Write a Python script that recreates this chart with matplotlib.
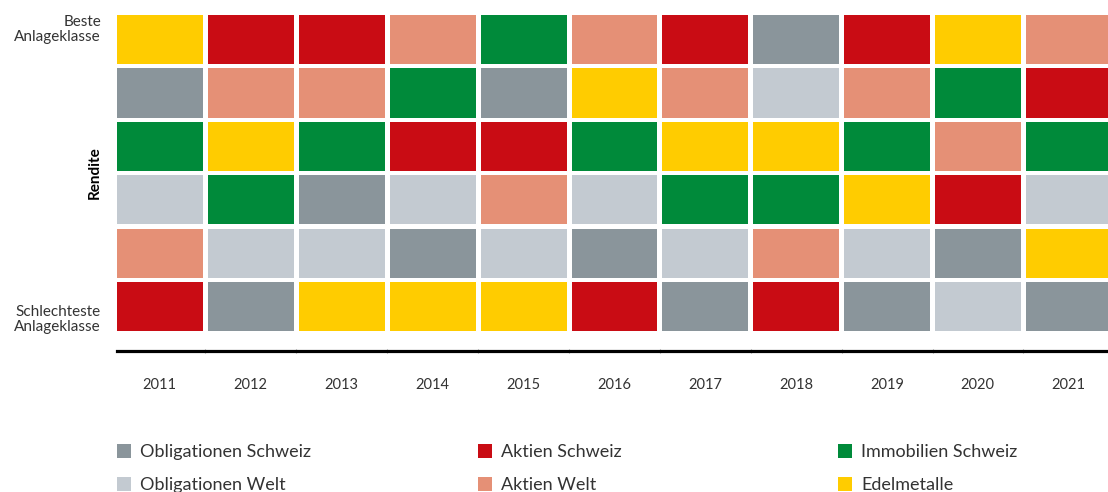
import matplotlib
matplotlib.use("Agg")
import matplotlib.pyplot as plt
from matplotlib.patches import Rectangle, Patch

plt.rcParams['font.family'] = ['Lato', 'DejaVu Sans']

# asset classes and their colours
categories = ['Obligationen Schweiz', 'Obligationen Welt', 'Aktien Schweiz',
              'Aktien Welt', 'Immobilien Schweiz', 'Edelmetalle']
colors = ['#8A959B', '#C3CAD1', '#C90C14', '#E59076', '#008A3A', '#FFCC00']
short = ['OS', 'OW', 'AS', 'AW', 'IS', 'EM']

years = ['2011', '2012', '2013', '2014', '2015', '2016',
         '2017', '2018', '2019', '2020', '2021']

# ranking per year, best to worst
ranking = [
    ['EM', 'OS', 'IS', 'OW', 'AW', 'AS'],  # 2011
    ['AS', 'AW', 'EM', 'IS', 'OW', 'OS'],  # 2012
    ['AS', 'AW', 'IS', 'OS', 'OW', 'EM'],  # 2013
    ['AW', 'IS', 'AS', 'OW', 'OS', 'EM'],  # 2014
    ['IS', 'OS', 'AS', 'AW', 'OW', 'EM'],  # 2015
    ['AW', 'EM', 'IS', 'OW', 'OS', 'AS'],  # 2016
    ['AS', 'AW', 'EM', 'IS', 'OW', 'OS'],  # 2017
    ['OS', 'OW', 'EM', 'IS', 'AW', 'AS'],  # 2018
    ['AS', 'AW', 'IS', 'EM', 'OW', 'OS'],  # 2019
    ['EM', 'IS', 'AW', 'AS', 'OS', 'OW'],  # 2020
    ['AW', 'AS', 'IS', 'OW', 'EM', 'OS'],  # 2021
]

color_of = dict(zip(short, colors))
txt_color = '#333333'

W, H = 1108, 492
fig = plt.figure(figsize=(W / 100, H / 100), dpi=100)

# grid axes: left 117px, top 15px, bottom line at 351px, column pitch ~91px
pitch_x, pitch_y = 90.9, 53.4
left, top, bottom = 117, 15, 351
ncol = len(years)
ax_w = ncol * pitch_x
ax = fig.add_axes([left / W, (H - bottom) / H, ax_w / W, (bottom - top) / H])
ax.set_xlim(0, ncol)
ymax = (bottom - top) / pitch_y
ax.set_ylim(ymax, 0)

for i, col in enumerate(ranking):
    for r, code in enumerate(col):
        ax.add_patch(Rectangle((i, r), 0.945, 0.92, facecolor=color_of[code],
                               edgecolor='none'))

for s in ['top', 'right', 'left']:
    ax.spines[s].set_visible(False)
ax.spines['bottom'].set_linewidth(2.3)
ax.spines['bottom'].set_color('black')

ax.set_xticks([i + 0.47 for i in range(ncol)])
ax.set_xticklabels(years, fontsize=10.5, color=txt_color)
ax.tick_params(axis='x', length=0, pad=19.5)
ax.set_xticks([i + 0.972 for i in range(ncol - 1)], minor=True)
ax.tick_params(axis='x', which='minor', length=3, width=0.8,
               color='#9a9a9a', direction='inout')
ax.set_yticks([])

lab_x = -16 / ax_w
ax.text(lab_x, 0.0, 'Beste\nAnlageklasse', transform=ax.get_yaxis_transform(),
        ha='right', va='top', fontsize=11, color=txt_color, linespacing=1.1)
ax.text(lab_x, 5.97, 'Schlechteste\nAnlageklasse', transform=ax.get_yaxis_transform(),
        ha='right', va='bottom', fontsize=11, color=txt_color, linespacing=1.1)
ax.text(-22 / ax_w, 2.96, 'Rendite', transform=ax.get_yaxis_transform(),
        ha='center', va='center', rotation=90, fontsize=11, fontweight='bold',
        color='black')

# legend: three columns of two entries
leg_x = [117, 478, 838]
for k in range(3):
    handles = [Patch(facecolor=colors[2 * k + j], edgecolor='none',
                     label=categories[2 * k + j]) for j in range(2)]
    leg = fig.legend(handles=handles, loc='upper left',
                     bbox_to_anchor=(leg_x[k] / W, (H - 444) / H),
                     frameon=False, fontsize=13, handlelength=0.8,
                     handleheight=0.8, handletextpad=0.5, labelspacing=0.93,
                     borderpad=0, borderaxespad=0)
    for t in leg.get_texts():
        t.set_color(txt_color)

fig.savefig('out.png', dpi=100)
